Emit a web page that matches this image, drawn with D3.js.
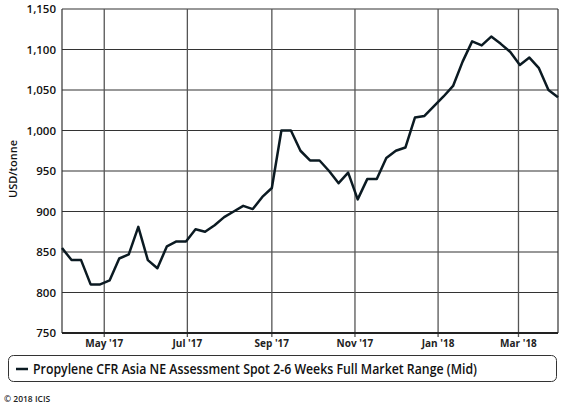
<!DOCTYPE html>
<html>
<head>
<meta charset="utf-8">
<script src="https://cdn.jsdelivr.net/npm/d3@7"></script>
<style>
  body { margin: 0; background: #fff; }
  svg { display: block; font-family: "Open Sans", "DejaVu Sans", sans-serif; }
</style>
</head>
<body>
<script>
// weekly assessments, first Friday 31 Mar 2017
const startDate = new Date(2017, 2, 31)
const prices = [855, 840, 840, 810, 810, 815, 842, 847, 881, 840, 830, 857, 863, 863,
  878, 875, 883, 893, 900, 907, 903, 918, 929, 1000, 1000, 975, 963, 963, 950, 935,
  948, 915, 940, 940, 966, 975, 979, 1016, 1018, 1030, 1042, 1055, 1085, 1110, 1105,
  1116, 1107, 1097, 1081, 1090, 1077, 1050, 1041]
const yTicks = [750, 800, 850, 900, 950, 1000, 1050, 1100, 1150]
const xTicks = [new Date(2017, 4, 1), new Date(2017, 6, 1), new Date(2017, 8, 1),
  new Date(2017, 10, 1), new Date(2018, 0, 1), new Date(2018, 2, 1)]
const seriesName = "Propylene CFR Asia NE Assessment Spot 2-6 Weeks Full Market Range (Mid)"

const W = 576, H = 412
const margin = {top: 9, right: 18, bottom: 79, left: 62}

const data = prices.map((v, i) => ({date: d3.timeDay.offset(startDate, i * 7), value: v}))

const svg = d3.select('body').append('svg')
    .attr('width', W)
    .attr('height', H)

const x = d3.scaleTime()
    .domain([startDate, data[data.length - 1].date])
    .range([margin.left, W - margin.right])
const y = d3.scaleLinear()
    .domain([750, 1150])
    .range([H - margin.bottom, margin.top])

// horizontal grid
svg.append('g')
    .selectAll('line').data(yTicks).enter().append('line')
    .attr('x1', margin.left).attr('x2', W - margin.right)
    .attr('y1', d => y(d)).attr('y2', d => y(d))
    .attr('stroke', '#333').attr('stroke-width', 1.2)

// vertical grid (with small ticks below)
svg.append('g')
    .selectAll('line').data(xTicks).enter().append('line')
    .attr('x1', d => x(d)).attr('x2', d => x(d))
    .attr('y1', margin.top).attr('y2', H - margin.bottom + 4)
    .attr('stroke', '#555').attr('stroke-width', 1.3)

// frame
svg.append('line')
    .attr('x1', margin.left).attr('x2', margin.left)
    .attr('y1', margin.top).attr('y2', H - margin.bottom)
    .attr('stroke', '#333').attr('stroke-width', 1.2)
svg.append('line')
    .attr('x1', W - margin.right).attr('x2', W - margin.right)
    .attr('y1', margin.top).attr('y2', H - margin.bottom)
    .attr('stroke', '#333').attr('stroke-width', 1.2)
svg.append('line')
    .attr('x1', margin.left).attr('x2', W - margin.right)
    .attr('y1', H - margin.bottom).attr('y2', H - margin.bottom)
    .attr('stroke', '#222').attr('stroke-width', 2)

// y labels
svg.append('g')
    .selectAll('text').data(yTicks).enter().append('text')
    .attr('x', margin.left - 6)
    .attr('y', d => y(d) + 4)
    .attr('text-anchor', 'end')
    .attr('font-size', '11.5px')
    .attr('font-weight', 600)
    .attr('fill', '#111')
    .text(d => d3.format(',')(d))

// x labels
const fmt = d3.timeFormat("%b '%y")
svg.append('g')
    .selectAll('text').data(xTicks).enter().append('text')
    .attr('x', d => x(d))
    .attr('y', H - margin.bottom + 14)
    .attr('text-anchor', 'middle')
    .attr('font-size', '10px')
    .attr('font-weight', 'bold')
    .attr('fill', '#222')
    .text(d => fmt(d))

svg.append('text')
    .attr('transform', 'translate(17,' + ((margin.top + H - margin.bottom) / 2 - 2) + ') rotate(-90)')
    .attr('text-anchor', 'middle')
    .attr('font-size', '11px')
    .attr('font-weight', 600)
    .attr('fill', '#111')
    .text('USD/tonne')

const line = d3.line()
    .x(d => x(d.date))
    .y(d => y(d.value))

svg.append('path')
    .datum(data)
    .attr('d', line)
    .attr('fill', 'none')
    .attr('stroke', '#0b1a22')
    .attr('stroke-width', 2.5)
    .attr('stroke-linejoin', 'round')

// legend
svg.append('rect')
    .attr('x', 8.5).attr('y', 355.5)
    .attr('width', 548).attr('height', 26)
    .attr('rx', 5)
    .attr('fill', '#fff')
    .attr('stroke', '#333').attr('stroke-width', 1)
svg.append('line')
    .attr('x1', 16).attr('x2', 28)
    .attr('y1', 369).attr('y2', 369)
    .attr('stroke', '#0b1a22').attr('stroke-width', 2.5)
svg.append('text')
    .attr('x', 33).attr('y', 373.5)
    .attr('font-size', '13.5px')
    .attr('font-weight', 600)
    .attr('fill', '#111')
    .attr('textLength', 444)
    .attr('lengthAdjust', 'spacingAndGlyphs')
    .text(seriesName)

svg.append('text')
    .attr('x', 4).attr('y', 402)
    .attr('font-size', '8.5px')
    .attr('font-weight', 600)
    .attr('fill', '#222')
    .text('\u00a9 2018 ICIS')
</script>
</body>
</html>
